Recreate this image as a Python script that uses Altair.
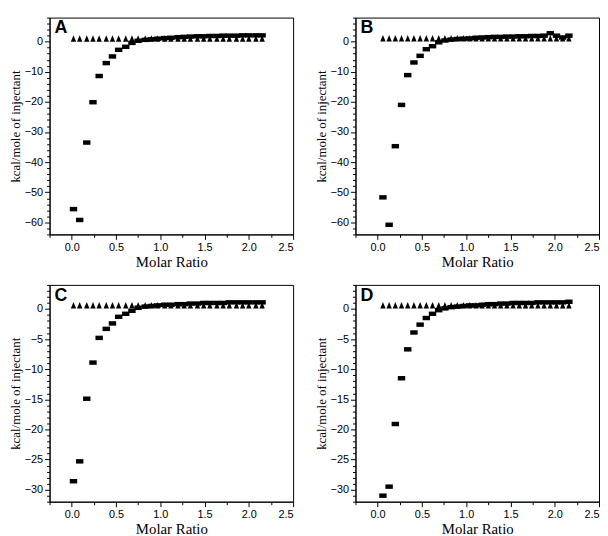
import altair as alt
import pandas as pd

# ---------------- data ----------------
x_ac = [0.02, 0.09, 0.17, 0.24, 0.31, 0.39, 0.46, 0.53, 0.61, 0.68,
        0.75, 0.83, 0.90, 0.97, 1.05, 1.12, 1.20, 1.27, 1.34, 1.42,
        1.49, 1.56, 1.64, 1.71, 1.78, 1.86, 1.93, 2.00, 2.08, 2.15]
x_bd = [0.06, 0.13, 0.20, 0.27, 0.34, 0.41, 0.48, 0.55, 0.62, 0.69,
        0.76, 0.83, 0.90, 0.97, 1.04, 1.11, 1.18, 1.25, 1.32, 1.39,
        1.46, 1.53, 1.60, 1.67, 1.74, 1.81, 1.88, 1.95, 2.02, 2.09, 2.16]

sq_a = [-55.6, -59.2, -33.5, -20.1, -11.4, -7.1, -4.9, -2.7, -1.7, -0.4,
        0.3, 0.6, 0.8, 1.0, 1.2, 1.3, 1.5, 1.6, 1.7, 1.8,
        1.8, 1.9, 1.9, 2.0, 2.0, 2.0, 2.1, 2.1, 2.1, 2.1]
tri_a = [1.0] * 30

sq_b = [-51.7, -60.8, -34.7, -21.0, -11.1, -6.9, -4.7, -2.5, -1.5, -0.2,
        0.4, 0.7, 0.9, 1.0, 1.1, 1.3, 1.4, 1.5, 1.6, 1.6,
        1.7, 1.7, 1.8, 1.8, 1.9, 1.9, 2.0, 2.8, 2.0, 1.4, 2.0]
tri_b = [1.1] * 31

sq_c = [-28.6, -25.3, -14.9, -8.9, -4.8, -3.3, -2.4, -1.3, -0.8, -0.3,
        0.2, 0.4, 0.5, 0.6, 0.7, 0.7, 0.8, 0.8, 0.9, 0.9,
        1.0, 1.0, 1.0, 1.0, 1.1, 1.1, 1.1, 1.1, 1.1, 1.1]
tri_c = [0.6] * 30

sq_d = [-31.0, -29.5, -19.1, -11.5, -6.7, -3.9, -2.6, -1.5, -0.8, -0.2,
        0.1, 0.3, 0.4, 0.5, 0.6, 0.6, 0.7, 0.8, 0.8, 0.9,
        0.9, 1.0, 1.0, 1.0, 1.0, 1.1, 1.1, 1.1, 1.1, 1.1, 1.2]
tri_d = [0.6] * 31

x_ticks = [-0.25, 0.0, 0.25, 0.5, 0.75, 1.0, 1.25, 1.5, 1.75, 2.0, 2.25, 2.5]
y_ticks_big = list(range(-64, 9, 2))
y_ticks_small = list(range(-32, 5, 1))

# ---------------- styling ----------------
W, H = 246, 219
SQ_PATH = "M-1,-0.6L1,-0.6L1,0.6L-1,0.6Z"
TRI_PATH = "M0,-1L0.8,0.9L-0.8,0.9Z"


def panel(xs, sq, tri, letter, ydom, yticks, ymajor):
    df = pd.DataFrame({"x": xs + xs, "y": sq + tri,
                       "s": ["sq"] * len(xs) + ["tri"] * len(xs)})
    xenc = alt.X(
        "x:Q",
        scale=alt.Scale(domain=[-0.25, 2.5], nice=False, zero=False),
        axis=alt.Axis(
            values=x_ticks,
            labelExpr="(round(datum.value*4) % 2 == 0) ? format(datum.value, '.1f') : ''",
            tickSize={"condition": {"test": "round(datum.value*4) % 2 == 0", "value": 5}, "value": 3},
            labelOverlap=False,
            title="Molar Ratio",
            grid=False,
        ),
    )
    yenc = alt.Y(
        "y:Q",
        scale=alt.Scale(domain=ydom, nice=False, zero=False),
        axis=alt.Axis(
            values=yticks,
            labelExpr=f"(datum.value % {ymajor} == 0) ? format(datum.value, 'd') : ''",
            tickSize={"condition": {"test": f"datum.value % {ymajor} == 0", "value": 5}, "value": 3},
            labelOverlap=False,
            title="kcal/mole of injectant",
            grid=False,
        ),
    )
    tri_layer = alt.Chart(df).transform_filter("datum.s == 'tri'").mark_point(
        shape=TRI_PATH, filled=True, size=46, color="black", opacity=1
    ).encode(x=xenc, y=yenc)
    sq_layer = alt.Chart(df).transform_filter("datum.s == 'sq'").mark_point(
        shape=SQ_PATH, filled=True, size=56, color="black", opacity=1
    ).encode(x=xenc, y=yenc)
    lab = alt.Chart(pd.DataFrame({"t": [letter]})).mark_text(
        align="left", baseline="top", fontSize=18, fontWeight="bold",
        font="Liberation Sans", color="black"
    ).encode(x=alt.value(5), y=alt.value(2), text="t:N")
    return alt.layer(tri_layer, sq_layer, lab).properties(width=W, height=H)


pA = panel(x_ac, sq_a, tri_a, "A", [-64, 8], y_ticks_big, 10)
pB = panel(x_bd, sq_b, tri_b, "B", [-64, 8], y_ticks_big, 10)
pC = panel(x_ac, sq_c, tri_c, "C", [-32, 4], y_ticks_small, 5)
pD = panel(x_bd, sq_d, tri_d, "D", [-32, 4], y_ticks_small, 5)

chart = alt.vconcat(
    alt.hconcat(pA, pB, spacing=20),
    alt.hconcat(pC, pD, spacing=20),
    spacing=8,
).properties(padding=0, background="white").configure_view(
    stroke="black", strokeWidth=1
).configure_axis(
    domainColor="black", tickColor="black", labelColor="black",
    labelFont="Liberation Sans", labelFontSize=11, labelPadding=2,
    titleFont="Liberation Serif", titleFontWeight="normal", titleColor="black",
).configure_axisX(
    titleFontSize=15, titlePadding=2
).configure_axisY(
    titleFontSize=13, titlePadding=2
)

chart.save("out.html", embed_options={"renderer": "svg", "actions": False})
